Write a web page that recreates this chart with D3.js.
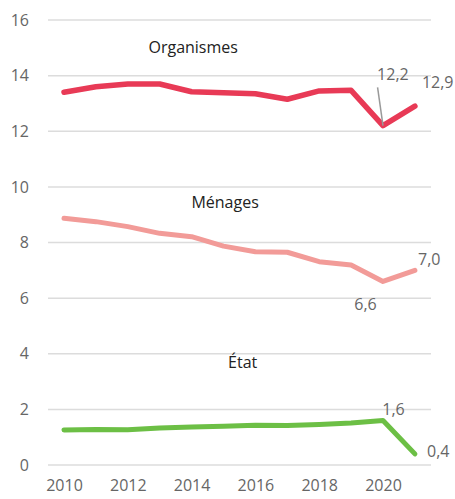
<!DOCTYPE html>
<html>
<head>
<meta charset="utf-8">
<script src="https://cdn.jsdelivr.net/npm/d3@7"></script>
<style>
  body { margin: 0; background: #fff; }
  svg { font-family: "Open Sans", Lato, sans-serif; }
</style>
</head>
<body>
<div id="chart"></div>
<script>
var years = [2010, 2011, 2012, 2013, 2014, 2015, 2016, 2017, 2018, 2019, 2020, 2021];
var organismes = [13.4, 13.6, 13.7, 13.7, 13.42, 13.38, 13.35, 13.15, 13.45, 13.47, 12.2, 12.9];
var menages = [8.87, 8.75, 8.57, 8.33, 8.21, 7.87, 7.67, 7.65, 7.31, 7.19, 6.6, 7.0];
var etat = [1.26, 1.28, 1.27, 1.33, 1.37, 1.39, 1.43, 1.42, 1.46, 1.51, 1.6, 0.4];
var yTicks = [0, 2, 4, 6, 8, 10, 12, 14, 16];
var xTicks = [2010, 2012, 2014, 2016, 2018, 2020];

var series = [
  { name: 'Organismes', values: organismes, color: '#e83a56', width: 5.5, lx: 2014.05, ly: 14.8 },
  { name: 'Ménages', values: menages, color: '#f29b98', width: 5, lx: 2015.05, ly: 9.24 },
  { name: 'État', values: etat, color: '#6cbf45', width: 5, lx: 2015.6, ly: 3.5 }
];

var w = 455, h = 499;
var svg = d3.select('#chart').append('svg').attr('width', w).attr('height', h);

var x = d3.scaleLinear().domain([2010, 2020]).range([64, 383]);
var y = d3.scaleLinear().domain([0, 16]).range([465, 20]);

// grid
svg.append('g').selectAll('line').data(yTicks).enter().append('line')
  .attr('x1', 48).attr('x2', 431)
  .attr('y1', function (d) { return y(d); }).attr('y2', function (d) { return y(d); })
  .attr('stroke', '#dcdcdc').attr('stroke-width', 1.5);

var yAxis = svg.append('g').attr('transform', 'translate(29,0)')
  .call(d3.axisLeft(y).tickValues(yTicks).tickSize(0).tickPadding(0));
yAxis.select('.domain').remove();
yAxis.selectAll('text').attr('font-size', 16).attr('fill', '#666').attr('font-family', '"Open Sans", sans-serif');

var xAxis = svg.append('g').attr('transform', 'translate(0,480)')
  .call(d3.axisBottom(x).tickValues(xTicks).tickFormat(d3.format('d')).tickSize(0).tickPadding(0));
xAxis.select('.domain').remove();
xAxis.selectAll('text').attr('font-size', 16).attr('fill', '#666').attr('font-family', '"Open Sans", sans-serif');

var line = d3.line()
  .x(function (d, i) { return x(years[i]); })
  .y(function (d) { return y(d); });

series.forEach(function (s) {
  svg.append('path').datum(s.values)
    .attr('d', line)
    .attr('fill', 'none')
    .attr('stroke', s.color)
    .attr('stroke-width', s.width)
    .attr('stroke-linejoin', 'round')
    .attr('stroke-linecap', 'round');
  svg.append('text')
    .attr('x', x(s.lx)).attr('y', y(s.ly))
    .attr('text-anchor', 'middle')
    .attr('font-size', 16).attr('fill', '#222')
    .text(s.name);
});

// value labels (y offset in data units, baseline)
var fmt = function (v) { return d3.format('.1f')(v).replace('.', ','); };
var labels = [
  { v: organismes[10], yr: 2020.31, dy: 1.64, anchor: 'middle' },
  { v: organismes[11], yr: 2021.22, dy: 0.66, anchor: 'start' },
  { v: menages[10], yr: 2019.45, dy: -1.03, anchor: 'middle' },
  { v: menages[11], yr: 2021.1, dy: 0.19, anchor: 'start' },
  { v: etat[10], yr: 2020.33, dy: 0.2, anchor: 'middle' },
  { v: etat[11], yr: 2021.38, dy: -0.11, anchor: 'start' }
];
svg.append('g').selectAll('text').data(labels).enter().append('text')
  .attr('x', function (d) { return x(d.yr); })
  .attr('y', function (d) { return y(d.v + d.dy); })
  .attr('text-anchor', function (d) { return d.anchor; })
  .attr('font-size', 16).attr('fill', '#666')
  .text(function (d) { return fmt(d.v); });

// leader line for 12,2
svg.append('line')
  .attr('x1', x(2019.83)).attr('y1', y(13.58))
  .attr('x2', x(2020)).attr('y2', y(12.2))
  .attr('stroke', '#999').attr('stroke-width', 1.5);
</script>
</body>
</html>
